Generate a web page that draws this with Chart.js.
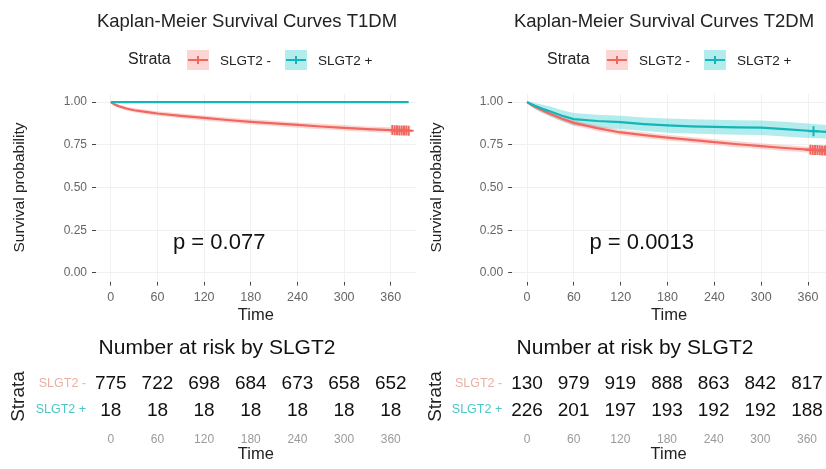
<!DOCTYPE html>
<html><head><meta charset="utf-8">
<script src="https://cdn.jsdelivr.net/npm/chart.js@4.4.1/dist/chart.umd.min.js"></script>
<style>
html,body{margin:0;padding:0;background:#fff;overflow:hidden}
body{width:826px;height:469px;position:relative}
canvas{position:absolute;display:block}
</style></head><body>
<canvas id="km1" width="420" height="330" style="left:0;top:0"></canvas>
<canvas id="km2" width="406" height="330" style="left:420px;top:0"></canvas>
<canvas id="rt1" width="420" height="139" style="left:0;top:330px"></canvas>
<canvas id="rt2" width="406" height="139" style="left:420px;top:330px"></canvas>
<script>
const FONT = '"Liberation Sans", Arial, Helvetica, sans-serif';
Chart.defaults.font.family = FONT;

// ---------- data ----------
const strata = ['SLGT2 -', 'SLGT2 +'];
const timeTicks = [0, 60, 120, 180, 240, 300, 360];
const survTicks = [0, 0.25, 0.5, 0.75, 1];
const plotTitles = ['Kaplan-Meier Survival Curves T1DM', 'Kaplan-Meier Survival Curves T2DM'];
const pValues = ['p = 0.077', 'p = 0.0013'];
const riskTitle = 'Number at risk by SLGT2';
const legendTitle = 'Strata';

// T1DM
const t1Times       = [0, 5, 10, 20, 30, 45, 60, 90, 120, 150, 180, 210, 240, 270, 300, 330, 360, 383];
const t1MinusSurv   = [1.000, 0.985, 0.976, 0.962, 0.952, 0.942, 0.933, 0.919, 0.907, 0.895, 0.884, 0.875, 0.866, 0.857, 0.849, 0.841, 0.836, 0.832];
const t1MinusLower  = [1.000, 0.977, 0.966, 0.951, 0.940, 0.929, 0.920, 0.905, 0.892, 0.880, 0.869, 0.860, 0.850, 0.841, 0.833, 0.825, 0.820, 0.816];
const t1MinusUpper  = [1.000, 0.993, 0.986, 0.973, 0.964, 0.955, 0.946, 0.933, 0.921, 0.910, 0.899, 0.890, 0.881, 0.873, 0.865, 0.857, 0.852, 0.848];
const t1PlusTimes   = [0, 383];
const t1PlusSurv    = [1.000, 1.000];
const t1MinusCensorT = [362, 365, 368, 371, 374, 377, 380, 383];
const t1MinusCensorS = [0.836, 0.835, 0.835, 0.834, 0.834, 0.833, 0.833, 0.832];
const t1RiskMinus   = [775, 722, 698, 684, 673, 658, 652];
const t1RiskPlus    = [18, 18, 18, 18, 18, 18, 18];

// T2DM
const t2Times       = [0, 5, 10, 20, 30, 45, 60, 90, 120, 150, 180, 210, 240, 270, 300, 330, 360, 383];
const t2MinusSurv   = [1.000, 0.985, 0.972, 0.950, 0.930, 0.902, 0.878, 0.847, 0.822, 0.806, 0.792, 0.779, 0.765, 0.753, 0.742, 0.731, 0.722, 0.716];
const t2MinusLower  = [1.000, 0.978, 0.962, 0.937, 0.916, 0.887, 0.862, 0.831, 0.806, 0.789, 0.775, 0.762, 0.748, 0.736, 0.725, 0.714, 0.705, 0.699];
const t2MinusUpper  = [1.000, 0.992, 0.982, 0.963, 0.944, 0.917, 0.894, 0.863, 0.838, 0.823, 0.809, 0.796, 0.782, 0.770, 0.759, 0.748, 0.739, 0.733];
const t2PlusSurv    = [1.000, 0.988, 0.978, 0.960, 0.945, 0.920, 0.900, 0.889, 0.882, 0.871, 0.863, 0.858, 0.855, 0.852, 0.850, 0.842, 0.832, 0.825];
const t2PlusLower   = [1.000, 0.974, 0.958, 0.934, 0.915, 0.886, 0.863, 0.850, 0.843, 0.830, 0.821, 0.816, 0.812, 0.809, 0.807, 0.799, 0.790, 0.786];
const t2PlusUpper   = [1.000, 1.000, 0.995, 0.984, 0.974, 0.952, 0.936, 0.926, 0.920, 0.910, 0.903, 0.899, 0.896, 0.894, 0.892, 0.884, 0.875, 0.866];
const t2MinusCensorT = [363, 366, 369, 372, 375, 378, 381, 383];
const t2MinusCensorS = [0.721, 0.720, 0.720, 0.719, 0.718, 0.717, 0.717, 0.716];
const t2PlusCensorT  = [367];
const t2PlusCensorS  = [0.829];
const t2RiskMinus   = [130, 979, 919, 888, 863, 842, 817];
const t2RiskPlus    = [226, 201, 197, 193, 192, 192, 188];

// ---------- styles ----------
const RED = '#F0675F', TEAL = '#12B6B7';
const RED_BAND = 'rgba(248,118,109,0.30)', TEAL_BAND = 'rgba(0,191,196,0.30)';
const ROW_COLORS = ['#EBB0A4', '#4CC6CA'];
const K = 280 / 360; // px per day

const pts = (xs, ys) => xs.map((x, i) => ({ x, y: ys[i] }));

function lineDS(xs, ys, color, order) {
  return { data: pts(xs, ys), borderColor: color, borderWidth: 2.2, pointRadius: 0, fill: false, tension: 0, order };
}
function bandDS(xs, lo, hi, color) {
  return [
    { data: pts(xs, lo), borderWidth: 0, borderColor: 'transparent', pointRadius: 0, fill: false, order: 5 },
    { data: pts(xs, hi), borderWidth: 0, borderColor: 'transparent', pointRadius: 0, fill: '-1', backgroundColor: color, order: 4 }
  ];
}
function censorDS(xs, ys, color) {
  return { data: pts(xs, ys), showLine: false, pointStyle: 'cross', pointRadius: 5, pointBorderWidth: 2,
           pointBorderColor: color, borderColor: color, order: 0 };
}

function kmOverlay(g) {
  return {
    id: 'kmOverlay',
    afterDraw(chart) {
      const ctx = chart.ctx;
      ctx.save();
      ctx.fillStyle = '#222';
      ctx.textAlign = 'center'; ctx.textBaseline = 'middle';
      ctx.font = '18.5px ' + FONT;
      ctx.fillText(g.title, g.titleX, 22);
      const ly = 60;
      ctx.textAlign = 'left';
      ctx.font = '16px ' + FONT;
      ctx.fillText(legendTitle, g.legX, ly);
      const keys = [[g.legX + 59, RED_BAND, RED, strata[0]], [g.legX + 157, TEAL_BAND, TEAL, strata[1]]];
      keys.forEach(([kx, band, col, lab]) => {
        ctx.fillStyle = band; ctx.fillRect(kx, ly - 10, 22, 20);
        ctx.strokeStyle = col; ctx.lineWidth = 2;
        ctx.beginPath(); ctx.moveTo(kx + 1, ly); ctx.lineTo(kx + 21, ly); ctx.stroke();
        ctx.beginPath(); ctx.moveTo(kx + 11, ly - 4); ctx.lineTo(kx + 11, ly + 4); ctx.stroke();
        ctx.fillStyle = '#222'; ctx.font = '13.5px ' + FONT;
        ctx.fillText(lab, kx + 33, ly + 1);
      });
      const xs = chart.scales.x, ys = chart.scales.y;
      ctx.font = '22px ' + FONT; ctx.fillStyle = '#111';
      ctx.fillText(g.pval, xs.getPixelForValue(80), ys.getPixelForValue(0.178));
      ctx.restore();
    }
  };
}

function makeKM(id, g, datasets) {
  new Chart(document.getElementById(id), {
    type: 'line',
    data: { datasets },
    options: {
      responsive: false, animation: false, events: [],
      layout: { autoPadding: false, padding: { top: 93.5, right: g.padRight, left: 0, bottom: 5 } },
      plugins: { legend: { display: false }, tooltip: { enabled: false }, title: { display: false } },
      scales: {
        x: {
          type: 'linear', min: g.xMin, max: g.xMax,
          afterBuildTicks: s => { s.ticks = timeTicks.map(v => ({ value: v })); },
          afterFit: s => { s.height = 43.5; },
          grid: { color: '#F1F1F1', tickColor: '#444', tickLength: 4, lineWidth: 1 },
          border: { display: false },
          ticks: { font: { size: 12.5 }, color: '#666', padding: 5, maxRotation: 0, autoSkip: false,
                   callback: v => String(v) },
          title: { display: true, text: 'Time', font: { size: 16.5 }, color: '#222', padding: { top: 0, bottom: 0 } }
        },
        y: {
          type: 'linear', min: -0.05, max: 1.05,
          afterBuildTicks: s => { s.ticks = survTicks.map(v => ({ value: v })); },
          afterFit: s => { s.width = g.yW; },
          grid: { color: '#F1F1F1', tickColor: '#444', tickLength: 4, lineWidth: 1 },
          border: { display: false },
          ticks: { font: { size: 12 }, color: '#666', padding: 5, callback: v => Number(v).toFixed(2) },
          title: { display: true, text: 'Survival probability', font: { size: 15.5 }, color: '#222',
                   padding: { top: g.yTitlePad, bottom: 0 } }
        }
      }
    },
    plugins: [kmOverlay(g)]
  });
}

function riskOverlay(g, rows) {
  return {
    id: 'riskOverlay',
    afterDraw(chart) {
      const ctx = chart.ctx;
      ctx.save();
      ctx.fillStyle = '#111';
      ctx.textAlign = 'center'; ctx.textBaseline = 'middle';
      ctx.font = '21px ' + FONT;
      ctx.fillText(riskTitle, g.riskTitleX, 18);
      ctx.font = '19px ' + FONT;
      rows.forEach((vals, r) => {
        const meta = chart.getDatasetMeta(r);
        meta.data.forEach((el, i) => ctx.fillText(String(vals[i]), el.x, el.y + 1));
      });
      ctx.restore();
    }
  };
}

function makeRisk(id, g, rows) {
  new Chart(document.getElementById(id), {
    type: 'scatter',
    data: { datasets: rows.map((vals, r) => ({ data: timeTicks.map(t => ({ x: t, y: strata[r] })), pointRadius: 0 })) },
    options: {
      responsive: false, animation: false, events: [],
      layout: { autoPadding: false, padding: { top: 40, right: g.padRight, left: 0, bottom: 5 } },
      plugins: { legend: { display: false }, tooltip: { enabled: false } },
      scales: {
        x: {
          type: 'linear', min: g.xMin, max: g.xMax,
          afterBuildTicks: s => { s.ticks = timeTicks.map(v => ({ value: v })); },
          afterFit: s => { s.height = 41; },
          grid: { display: false, drawTicks: false }, border: { display: false },
          ticks: { font: { size: 12 }, color: '#9a9a9a', padding: 9, maxRotation: 0, autoSkip: false, callback: v => String(v) },
          title: { display: true, text: 'Time', font: { size: 16.5 }, color: '#222', padding: { top: 0, bottom: 0 } }
        },
        y: {
          type: 'category', labels: strata, offset: true,
          afterFit: s => { s.width = g.yW; },
          grid: { display: false, drawTicks: false }, border: { display: false },
          ticks: { font: { size: 12.5 }, color: c => ROW_COLORS[c.index], padding: 10 },
          title: { display: true, text: 'Strata', font: { size: 19 }, color: '#222', padding: { top: g.strataPad, bottom: 0 } }
        }
      }
    },
    plugins: [riskOverlay(g, rows)]
  });
}

// ---------- geometry ----------
const G1 = { yW: 96, padRight: 420 - (96 + (392 + 19) * K), xMin: -19, xMax: 392, yTitlePad: 10.5,
             title: plotTitles[0], titleX: 247, legX: 128, pval: pValues[0], riskTitleX: 217, strataPad: 7 };
const G2 = { yW: 92.2, padRight: 0, xMin: -19, xMax: -19 + (406 - 92.2) / (281 / 360), yTitlePad: 7.5,
             title: plotTitles[1], titleX: 244, legX: 127, pval: pValues[1], riskTitleX: 215, strataPad: 4 };

makeKM('km1', G1, [
  lineDS(t1PlusTimes, t1PlusSurv, TEAL, 1),
  lineDS(t1Times, t1MinusSurv, RED, 2),
  ...bandDS(t1Times, t1MinusLower, t1MinusUpper, RED_BAND),
  censorDS(t1MinusCensorT, t1MinusCensorS, RED)
]);
makeKM('km2', G2, [
  lineDS(t2Times, t2PlusSurv, TEAL, 1),
  lineDS(t2Times, t2MinusSurv, RED, 2),
  ...bandDS(t2Times, t2MinusLower, t2MinusUpper, RED_BAND),
  ...bandDS(t2Times, t2PlusLower, t2PlusUpper, TEAL_BAND),
  censorDS(t2MinusCensorT, t2MinusCensorS, RED),
  censorDS(t2PlusCensorT, t2PlusCensorS, TEAL)
]);
makeRisk('rt1', G1, [t1RiskMinus, t1RiskPlus]);
makeRisk('rt2', G2, [t2RiskMinus, t2RiskPlus]);
</script>
</body></html>
